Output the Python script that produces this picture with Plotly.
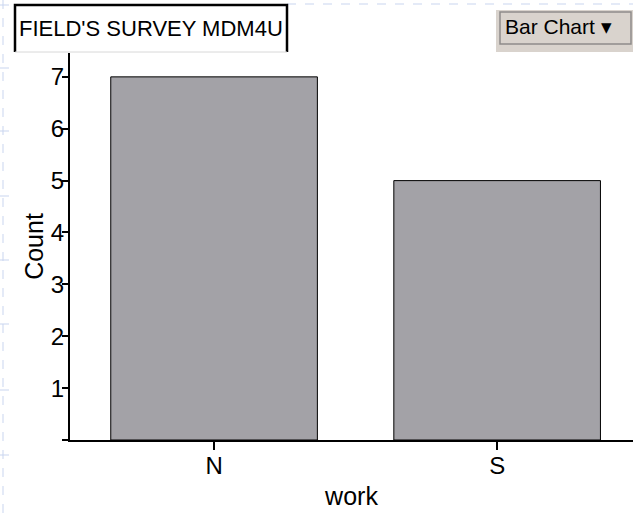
"""Bar chart of the 'work' attribute from the Field's survey (MDM4U)."""

import plotly.graph_objects as go

# ---- data ------------------------------------------------------------
categories = ["N", "S"]
counts = [7, 5]
y_ticks = [0, 1, 2, 3, 4, 5, 6, 7]
y_tick_text = ["", "1", "2", "3", "4", "5", "6", "7"]

# ---- style -----------------------------------------------------------
W, H = 633, 514
L, R, T, B = 70, 0, 53, 74
FONT = "Liberation Sans, Arial, Helvetica, sans-serif"
BAR_GREY = "#a3a2a7"
PAGE_DASH = "#c9d5ef"


def px(x):
    """pixel x -> paper x"""
    return (x - L) / (W - L - R)


def py(y):
    """pixel y -> paper y"""
    return (H - B - y) / (H - T - B)


fig = go.Figure(
    go.Bar(
        x=categories,
        y=counts,
        width=0.73,
        marker=dict(color=BAR_GREY, line=dict(color="black", width=1)),
        hovertemplate="%{x}: %{y}<extra></extra>",
    )
)

shapes = []

# notebook-page dashed guides in the background
for gy in [5, 68, 131, 196, 260, 324, 390, 455]:
    shapes.append(dict(type="line", xref="paper", yref="paper",
                       x0=px(0), x1=px(16), y0=py(gy), y1=py(gy),
                       line=dict(color=PAGE_DASH, width=1, dash="dash"), layer="below"))
shapes.append(dict(type="line", xref="paper", yref="paper",
                   x0=px(3), x1=px(3), y0=py(0), y1=py(H),
                   line=dict(color=PAGE_DASH, width=1, dash="dash"), layer="below"))
shapes.append(dict(type="line", xref="paper", yref="paper",
                   x0=px(287), x1=px(W), y0=py(4), y1=py(4),
                   line=dict(color=PAGE_DASH, width=1, dash="dash"), layer="below"))

# title box (open at the bottom)
shapes.append(dict(type="path", xref="paper", yref="paper",
                   path=f"M {px(15)},{py(52)} L {px(15)},{py(5)} L {px(287)},{py(5)} L {px(287)},{py(52)}",
                   line=dict(color="black", width=2.5)))
shapes.append(dict(type="line", xref="paper", yref="paper",
                   x0=px(15), x1=px(287), y0=py(52), y1=py(52),
                   line=dict(color="#d8d8d8", width=1)))

# "Bar Chart" menu button
shapes.append(dict(type="rect", xref="paper", yref="paper",
                   x0=px(496), x1=px(W), y0=py(52), y1=py(10),
                   fillcolor="#d9d3cd", line=dict(width=0)))
shapes.append(dict(type="rect", xref="paper", yref="paper",
                   x0=px(500), x1=px(631), y0=py(44), y1=py(12),
                   fillcolor="#d9d3cd", line=dict(color="#8e8c8a", width=1.5)))

fig.update_layout(
    width=W,
    height=H,
    margin=dict(l=L, r=R, t=T, b=B, pad=0),
    paper_bgcolor="white",
    plot_bgcolor="rgba(0,0,0,0)",
    showlegend=False,
    font=dict(family=FONT, size=22, color="black"),
    shapes=shapes,
    annotations=[
        dict(text="FIELD'S SURVEY MDM4U", xref="paper", yref="paper",
             x=px(151), y=py(28), xanchor="center", yanchor="middle", showarrow=False,
             font=dict(family=FONT, size=22, color="black")),
        dict(text="Bar Chart ▾", xref="paper", yref="paper",
             x=px(503), y=py(27), xanchor="left", yanchor="middle", showarrow=False,
             font=dict(family=FONT, size=21, color="black")),
    ],
)

fig.update_xaxes(
    range=[-0.509, 1.48],
    showgrid=False,
    showline=True,
    linecolor="black",
    linewidth=1.5,
    ticks="outside",
    ticklen=8,
    tickwidth=1.5,
    tickcolor="black",
    tickfont=dict(size=24),
    ticklabelstandoff=-5,
    title=dict(text="work", font=dict(size=25), standoff=10),
)

fig.update_yaxes(
    range=[0, 7.46],
    tickvals=y_ticks,
    ticktext=y_tick_text,
    showgrid=False,
    zeroline=False,
    showline=True,
    linecolor="black",
    linewidth=2,
    ticks="outside",
    ticklen=6,
    tickwidth=2,
    tickcolor="black",
    tickfont=dict(size=24),
    ticklabelstandoff=-7,
    title=dict(text="Count", font=dict(size=25), standoff=0),
)

fig.write_html("out.html", config={"displayModeBar": False},
               post_script="document.body.style.margin='0px';")
